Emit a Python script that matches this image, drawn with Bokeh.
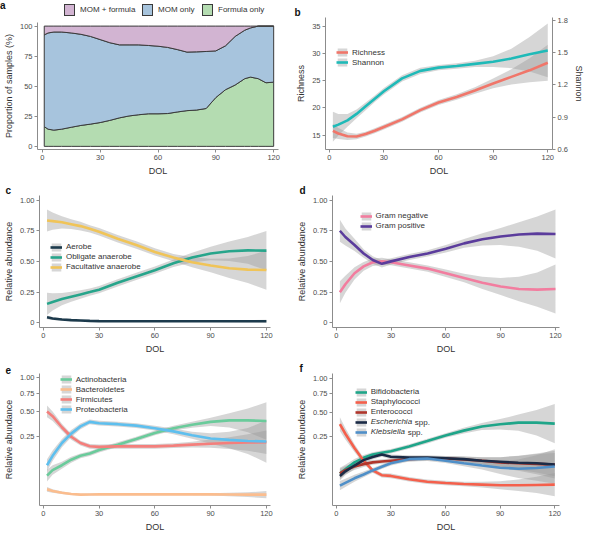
import numpy as np
from bokeh.plotting import figure
from bokeh.models import (Range1d, LinearAxis, FixedTicker, Legend, LegendItem,
                          Label, CustomJSTickFormatter, Div)
from bokeh.layouts import column, row
from bokeh.embed import file_html
from bokeh.resources import INLINE

# ---------------- data ----------------
# panel a: feeding type, stacked percentages
DOL_A = [1, 3, 6, 10, 15, 20, 25, 30, 35, 40, 45, 50, 55, 60, 65, 70, 75, 80, 85,
         90, 95, 100, 105, 108, 112, 116, 120]
FORMULA_ONLY_TOP = [16.4, 14.3, 13.5, 14.3, 15.9, 17.4, 18.5, 19.8, 21.6, 23.7, 25.3,
                    26.3, 27.1, 27.1, 27.3, 28.6, 29.7, 30.2, 31.5, 40.6, 47.1, 51.0,
                    56.3, 57.6, 56.3, 52.9, 53.4]
MOM_ONLY_TOP = [92.7, 94.3, 95.1, 95.1, 94.3, 93.2, 91.4, 88.8, 86.2, 84.4, 84.4, 84.4,
                83.9, 83.3, 82.3, 80.5, 78.4, 78.6, 78.9, 79.4, 83.6, 91.4, 96.6, 98.5,
                100.0, 100.0, 100.0]
PCT_TOTAL = 100.0
FEED_LABELS = ["MOM + formula", "MOM only", "Formula only"]

# panels b-f: smoothed fits on a common day-of-life grid
DOL = [2, 5, 10, 15, 20, 25, 30, 40, 50, 60, 70, 80, 90, 100, 110, 120]

RICHNESS = [15.8, 15.3, 14.8, 14.75, 15.2, 15.8, 16.5, 17.9, 19.6, 21.0, 22.0, 23.2, 24.5, 25.7, 26.9, 28.3]
RICHNESS_CI = [1.3, 1.0, 0.7, 0.5, 0.45, 0.45, 0.45, 0.45, 0.45, 0.45, 0.5, 0.6, 0.9, 1.4, 2.2, 3.3]
SHANNON = [0.81, 0.83, 0.87, 0.93, 1.0, 1.07, 1.14, 1.26, 1.33, 1.36, 1.375, 1.395, 1.415, 1.445, 1.485, 1.52]
SHANNON_CI = [0.14, 0.1, 0.06, 0.04, 0.035, 0.03, 0.03, 0.03, 0.03, 0.025, 0.025, 0.03, 0.05, 0.09, 0.16, 0.25]

AEROBE = [0.044, 0.035, 0.026, 0.021, 0.018, 0.015, 0.013, 0.012, 0.012, 0.012, 0.012, 0.012, 0.012, 0.012, 0.012, 0.012]
AEROBE_CI = [0.015, 0.012, 0.01, 0.008, 0.007, 0.006, 0.006, 0.006, 0.006, 0.006, 0.006, 0.006, 0.007, 0.008, 0.01, 0.012]
OBLIGATE = [0.154, 0.17, 0.193, 0.212, 0.231, 0.25, 0.27, 0.326, 0.378, 0.429, 0.486, 0.532, 0.566, 0.584, 0.591, 0.589]
OBLIGATE_CI = [0.09, 0.07, 0.05, 0.04, 0.035, 0.03, 0.03, 0.03, 0.03, 0.03, 0.03, 0.04, 0.055, 0.08, 0.11, 0.16]
FACULTATIVE = [0.835, 0.83, 0.82, 0.805, 0.789, 0.767, 0.743, 0.686, 0.635, 0.578, 0.532, 0.494, 0.468, 0.445, 0.434, 0.43]
FACULTATIVE_CI = [0.09, 0.07, 0.05, 0.04, 0.035, 0.03, 0.03, 0.03, 0.03, 0.03, 0.03, 0.04, 0.055, 0.08, 0.11, 0.16]

GRAM_NEG = [0.249, 0.314, 0.404, 0.46, 0.494, 0.501, 0.494, 0.468, 0.442, 0.404, 0.365, 0.326, 0.296, 0.275, 0.27, 0.275]
GRAM_POS = [0.751, 0.70, 0.635, 0.565, 0.512, 0.481, 0.501, 0.537, 0.566, 0.604, 0.648, 0.681, 0.704, 0.72, 0.728, 0.725]
GRAM_CI = [0.09, 0.07, 0.05, 0.035, 0.03, 0.03, 0.025, 0.025, 0.025, 0.03, 0.035, 0.05, 0.07, 0.1, 0.14, 0.2]

# panel e/f: relative abundance (square-root axis); CI half-widths in sqrt units
ACTINO = [0.027, 0.045, 0.064, 0.09, 0.111, 0.124, 0.146, 0.183, 0.226, 0.278, 0.322, 0.356, 0.386, 0.402, 0.402, 0.395]
ACTINO_CI = [0.05, 0.04, 0.03, 0.025, 0.02, 0.02, 0.02, 0.02, 0.02, 0.02, 0.02, 0.025, 0.035, 0.06, 0.1, 0.16]
BACTERO = [0.0023, 0.0012, 0.00036, 0.00007, 0.00001, 0.00002, 0.00003, 0.00003, 0.00003, 0.00003, 0.00003, 0.00003, 0.00003, 0.00002, 0.00001, 0.00001]
BACTERO_CI = [0.02, 0.015, 0.01, 0.008, 0.008, 0.008, 0.008, 0.008, 0.008, 0.008, 0.008, 0.008, 0.01, 0.015, 0.02, 0.03]
FIRMI = [0.504, 0.448, 0.331, 0.245, 0.195, 0.171, 0.167, 0.171, 0.171, 0.171, 0.176, 0.183, 0.19, 0.195, 0.199, 0.201]
FIRMI_CI = [0.05, 0.04, 0.03, 0.025, 0.02, 0.02, 0.02, 0.02, 0.02, 0.02, 0.02, 0.025, 0.035, 0.05, 0.07, 0.1]
PROTEO = [0.064, 0.111, 0.195, 0.272, 0.34, 0.386, 0.372, 0.362, 0.347, 0.322, 0.292, 0.258, 0.231, 0.219, 0.211, 0.206]
PROTEO_CI = [0.05, 0.045, 0.035, 0.03, 0.025, 0.02, 0.02, 0.02, 0.02, 0.02, 0.025, 0.03, 0.045, 0.07, 0.11, 0.18]

BIFIDO = [0.031, 0.045, 0.074, 0.097, 0.116, 0.126, 0.136, 0.168, 0.208, 0.255, 0.299, 0.339, 0.362, 0.379, 0.379, 0.369]
BIFIDO_CI = [0.05, 0.04, 0.03, 0.025, 0.02, 0.02, 0.02, 0.02, 0.02, 0.02, 0.025, 0.03, 0.045, 0.07, 0.11, 0.17]
STAPH = [0.363, 0.27, 0.157, 0.082, 0.041, 0.026, 0.024, 0.016, 0.011, 0.0087, 0.0072, 0.0063, 0.0055, 0.0055, 0.0059, 0.0063]
STAPH_CI = [0.06, 0.05, 0.035, 0.025, 0.02, 0.02, 0.02, 0.02, 0.02, 0.02, 0.02, 0.025, 0.035, 0.05, 0.07, 0.1]
ENTERO = [0.031, 0.042, 0.056, 0.066, 0.074, 0.078, 0.082, 0.09, 0.095, 0.094, 0.088, 0.082, 0.074, 0.07, 0.067, 0.064]
ENTERO_CI = [0.04, 0.035, 0.03, 0.025, 0.02, 0.02, 0.02, 0.02, 0.02, 0.02, 0.025, 0.03, 0.045, 0.065, 0.09, 0.12]
ESCH = [0.024, 0.038, 0.06, 0.085, 0.101, 0.116, 0.103, 0.098, 0.098, 0.095, 0.09, 0.082, 0.077, 0.072, 0.07, 0.064]
ESCH_CI = [0.04, 0.035, 0.03, 0.025, 0.02, 0.02, 0.02, 0.02, 0.02, 0.02, 0.025, 0.03, 0.04, 0.06, 0.08, 0.1]
KLEB = [0.005, 0.009, 0.018, 0.028, 0.041, 0.055, 0.07, 0.09, 0.093, 0.082, 0.07, 0.06, 0.051, 0.047, 0.05, 0.056]
KLEB_CI = [0.04, 0.035, 0.03, 0.025, 0.02, 0.02, 0.02, 0.02, 0.02, 0.02, 0.025, 0.035, 0.055, 0.08, 0.11, 0.15]

X_TICKS = [0, 30, 60, 90, 120]
PCT_TICKS = [0, 25, 50, 75, 100]
RICH_TICKS = [15, 20, 25, 30, 35]
SHAN_TICKS = [0.6, 0.9, 1.2, 1.5, 1.8]
ABUND_TICKS = [0, 0.25, 0.5, 0.75, 1.0]
SQRT_TICKS = [0.25, 0.5, 0.75, 1.0]

# ---------------- style ----------------
FONT = "Liberation Sans"
W, H = 293, 178
SX, SY = 293 / 300, 178 / 185
AX_COL = "#8c8c8c"
TXT_COL = "#4d4d4d"
BAND_COL = "#999999"
BAND_ALPHA = 0.4
LW = 2.6
IH = 10     # legend item height
GW = 12     # legend glyph width
LEG_DY = 3  # nudge legends down


def sq(v):
    v = np.asarray(v, dtype=float)
    return np.sign(v) * np.sqrt(np.abs(v))


def style_axis(ax, label):
    ax.axis_label = label
    ax.axis_line_color = AX_COL
    ax.major_tick_line_color = AX_COL
    ax.major_tick_out = 3
    ax.major_tick_in = 0
    ax.minor_tick_line_color = None
    ax.major_label_text_font = FONT
    ax.major_label_text_font_size = "7.5px"
    ax.major_label_text_color = TXT_COL
    ax.major_label_standoff = 2
    ax.axis_label_text_font = FONT
    ax.axis_label_text_font_size = "9px"
    ax.axis_label_text_font_style = "normal"
    ax.axis_label_text_color = "#333333"
    ax.axis_label_standoff = 3


def make_fig(xr, yr, b, xlabel, ylabel, yticks, letter=None, letter_x=0, h=H):
    p = figure(width=W, height=h, x_range=Range1d(*xr), y_range=Range1d(*yr),
               output_backend="svg", toolbar_location=None,
               min_border_left=b[0], min_border_right=b[1],
               min_border_top=b[2], min_border_bottom=b[3])
    p.outline_line_color = None
    p.grid.visible = False
    p.border_fill_color = "white"
    p.background_fill_color = "white"
    style_axis(p.xaxis[0], xlabel)
    style_axis(p.yaxis[0], ylabel)
    p.xaxis[0].ticker = FixedTicker(ticks=X_TICKS)
    p.yaxis[0].ticker = FixedTicker(ticks=yticks)
    if letter:
        p.title.text = letter
        p.title.align = "left"
        p.title.offset = letter_x * SX - b[0]
        p.title.standoff = 0
        p.title.text_font = FONT
        p.title.text_font_size = "10px"
        p.title.text_font_style = "bold"
        p.title.text_color = "#111111"
    return p


def frame_h(b, h=H):
    return h - b[2] - b[3]


def leg_loc(b, cx, cy, n):
    x = cx * SX - b[0]
    ytop = frame_h(b) - (cy * SY - b[2]) - LEG_DY
    return (x, ytop - n * IH), ytop


def make_legend(items, loc, italic=False):
    lg = Legend(items=items, location=loc, padding=0, margin=0, spacing=0,
                glyph_width=GW, glyph_height=IH, label_height=IH,
                label_standoff=4, label_text_font=FONT, label_text_font_size="8px",
                label_text_color="#333333", background_fill_alpha=0,
                border_line_alpha=0)
    if italic:
        lg.label_text_font_style = "italic"
    return lg


def smooth(p, x, series, tf=None):
    out = []
    for name, y, ci, color in series:
        yt = tf(y) if tf else np.asarray(y, dtype=float)
        ci = np.asarray(ci, dtype=float)
        band = p.varea(x=x, y1=yt - ci, y2=yt + ci, fill_color=BAND_COL,
                       fill_alpha=BAND_ALPHA)
        out.append([name, band, yt, color])
    items = []
    for name, band, yt, color in out:
        ln = p.line(x, yt, line_color=color, line_width=LW)
        items.append(LegendItem(label=name, renderers=[band, ln]))
    return items


# ---------------- panel a ----------------
LEG_H = 21
C_MIX, C_MOM, C_FOR = "#d2b4d2", "#a7c4dd", "#b4dcb1"
key_left = [63.5, 141.7, 202.0]
txt_left = [80.0, 158.0, 218.0]
parts = ['<div style="position:relative;width:%dpx;height:%dpx;overflow:hidden;'
         'font-family:\'Liberation Sans\',Arial,sans-serif;font-size:8px;color:#333333;">'
         % (W, LEG_H),
         '<span style="position:absolute;left:0px;top:0px;font-size:10px;line-height:11px;'
         'font-weight:bold;color:#111111;">a</span>']
for lab, col, kx, tx in zip(FEED_LABELS, [C_MIX, C_MOM, C_FOR], key_left, txt_left):
    parts.append('<span style="position:absolute;left:%.1fpx;top:4px;width:11px;height:12px;'
                 'background:%s;border:1px solid #3a3a3a;"></span>' % (kx, col))
    parts.append('<span style="position:absolute;left:%.1fpx;top:5px;line-height:10px;'
                 'white-space:nowrap;">%s</span>' % (tx, lab))
parts.append('</div>')
la = Div(text="".join(parts), width=W, height=LEG_H, margin=(0, 0, 0, 0))

BA = (33, 15, 1, 27)
pa = make_fig((-2.5, 122.5), (-2.6, 103), BA, "DOL", "Proportion of samples (%)",
              PCT_TICKS, h=H - LEG_H)
n = len(DOL_A)
lo = np.asarray(FORMULA_ONLY_TOP)
hi = np.asarray(MOM_ONLY_TOP)
top = np.full(n, PCT_TOTAL)
xs = list(DOL_A) + list(DOL_A[::-1])
pa.patch(xs, list(lo) + [0.0] * n, fill_color=C_FOR, line_color="#3a3a3a", line_width=1)
pa.patch(xs, list(hi) + list(lo[::-1]), fill_color=C_MOM, line_color="#3a3a3a", line_width=1)
pa.patch(xs, list(top) + list(hi[::-1]), fill_color=C_MIX, line_color="#3a3a3a", line_width=1)

# ---------------- panel b ----------------
BB = (30, 28, 17, 28)
pb = make_fig((-2.06, 122.6), (12.37, 36.6), BB, "DOL", "Richness", RICH_TICKS, "b", -1)
pb.extra_y_ranges = {"sh": Range1d(0.599, 1.826)}
rax = LinearAxis(y_range_name="sh", ticker=FixedTicker(ticks=SHAN_TICKS))
style_axis(rax, "Shannon")
pb.add_layout(rax, "right")
rich_b = pb.varea(x=DOL, y1=np.asarray(RICHNESS) - RICHNESS_CI, y2=np.asarray(RICHNESS) + RICHNESS_CI,
                  fill_color=BAND_COL, fill_alpha=BAND_ALPHA)
sh_b = pb.varea(x=DOL, y1=np.asarray(SHANNON) - SHANNON_CI, y2=np.asarray(SHANNON) + SHANNON_CI,
                fill_color=BAND_COL, fill_alpha=BAND_ALPHA, y_range_name="sh")
rich_l = pb.line(DOL, RICHNESS, line_color="#f0766a", line_width=LW)
sh_l = pb.line(DOL, SHANNON, line_color="#1fbab8", line_width=LW, y_range_name="sh")
loc, _ = leg_loc(BB, 42, 47, 2)
pb.add_layout(make_legend([LegendItem(label="Richness", renderers=[rich_b, rich_l]),
                           LegendItem(label="Shannon", renderers=[sh_b, sh_l])], loc))

# ---------------- panel c ----------------
BC = (34, 23, 17, 27)
pc = make_fig((-2.05, 122.2), (-0.039, 1.039), BC, "DOL", "Relative abundance", ABUND_TICKS, "c", 0)
pc.yaxis[0].formatter = CustomJSTickFormatter(code='return tick === 0 ? "0" : tick.toFixed(2);')
items = smooth(pc, DOL, [("Aerobe", AEROBE, AEROBE_CI, "#1c3a4c"),
                         ("Obligate anaerobe", OBLIGATE, OBLIGATE_CI, "#27a58b"),
                         ("Facultative anaerobe", FACULTATIVE, FACULTATIVE_CI, "#f0c458")])
loc, _ = leg_loc(BC, 46, 65, 3)
pc.add_layout(make_legend(items, loc))

# ---------------- panel d ----------------
BD = (30, 27, 17, 27)
pd_ = make_fig((-2.05, 122.2), (-0.039, 1.039), BD, "DOL", "Relative abundance", ABUND_TICKS, "d", -3)
pd_.yaxis[0].formatter = CustomJSTickFormatter(code='return tick === 0 ? "0" : tick.toFixed(2);')
items = smooth(pd_, DOL, [("Gram negative", GRAM_NEG, GRAM_CI, "#f27d9f"),
                          ("Gram positive", GRAM_POS, GRAM_CI, "#5b3c9c")])
loc, _ = leg_loc(BD, 59, 33, 2)
pd_.add_layout(make_legend(items, loc))

# ---------------- panel e ----------------
sqrt_fmt = 'return (tick*tick).toFixed(2);'
BE = (34, 23, 17, 27)
pe = make_fig((-2.05, 122.2), (-0.089, 1.032), BE, "DOL", "Relative abundance",
              list(sq(SQRT_TICKS)), "e", 0)
pe.yaxis[0].formatter = CustomJSTickFormatter(code=sqrt_fmt)
items = smooth(pe, DOL, [("Actinobacteria", ACTINO, ACTINO_CI, "#6acb9b"),
                         ("Bacteroidetes", BACTERO, BACTERO_CI, "#fbbd8e"),
                         ("Firmicutes", FIRMI, FIRMI_CI, "#f47f7c"),
                         ("Proteobacteria", PROTEO, PROTEO_CI, "#5ebfee")], tf=sq)
loc, _ = leg_loc(BE, 56, 18, 4)
pe.add_layout(make_legend(items, loc))

# ---------------- panel f ----------------
BF = (30, 27, 17, 27)
pf = make_fig((-2.06, 122.6), (-0.101, 1.041), BF, "DOL", "Relative abundance",
              list(sq(SQRT_TICKS)), "f", -3)
pf.yaxis[0].formatter = CustomJSTickFormatter(code=sqrt_fmt)
items = smooth(pf, DOL, [("Bifidobacteria", BIFIDO, BIFIDO_CI, "#1fa589"),
                         ("Staphylococci", STAPH, STAPH_CI, "#f4604c"),
                         ("Enterococci", ENTERO, ENTERO_CI, "#b0362c"),
                         ("Escherichia", ESCH, ESCH_CI, "#1b2b46"),
                         ("Klebsiella", KLEB, KLEB_CI, "#4f8fc8")], tf=sq)
(lx, ly), ytop = leg_loc(BF, 54, 31, 5)
pf.add_layout(make_legend(items[:3], (lx, ly + 2 * IH)))
pf.add_layout(make_legend(items[3:], (lx, ly), italic=True))
for i, wd in [(3, 41.3), (4, 34.2)]:
    pf.add_layout(Label(x=lx + GW + 4 + wd + 2.2, y=ytop - (i + 0.5) * IH,
                        x_units="screen", y_units="screen", text="spp.",
                        text_font=FONT, text_font_size="8px", text_color="#333333",
                        text_baseline="middle", text_align="left"))

layout = column(row(column(la, pa), pb), row(pc, pd_), row(pe, pf))
open("out.html", "w").write(file_html(layout, INLINE))
